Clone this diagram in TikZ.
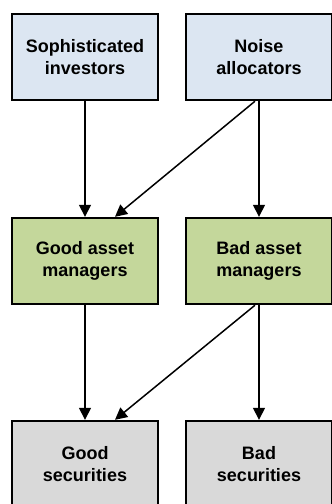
\documentclass[tikz,border=0pt]{standalone}
\usepackage{fontspec}
\setmainfont{Liberation Sans}
\usetikzlibrary{arrows.meta}

\definecolor{topblue}{HTML}{DCE6F2}
\definecolor{midgreen}{HTML}{C4D79B}
\definecolor{lowgray}{HTML}{D9D9D9}

\tikzset{
	box/.style={draw=black, line width=2.4pt, minimum width=146pt, minimum height=86pt,
		align=center, font=\fontsize{18}{22}\selectfont\bfseries, inner sep=0pt},
	flow/.style={line width=1.5pt, -{Triangle[length=12pt,width=12pt]}}
}

\begin{document}
\begin{tikzpicture}[x=1pt,y=-1pt]
	
	\useasboundingbox (0,0) rectangle (332,504);
	
	\node[box, fill=topblue] (soph) at (85,57) {Sophisticated\\investors};
	\node[box, fill=topblue] (noise) at (259,57) {Noise\\allocators};
	
	\node[box, fill=midgreen] (good) at (85,261) {Good asset\\managers};
	\node[box, fill=midgreen] (bad) at (259,261) {Bad asset\\managers};
	
	\node[box, fill=lowgray] (goodsec) at (85,464) {Good\\securities};
	\node[box, fill=lowgray] (badsec) at (259,464) {Bad\\securities};
	
	\draw[flow] (soph) -- (good);
	\draw[flow] (noise) -- (bad);
	\draw[flow] ([xshift=-4pt]noise.south) -- ([xshift=30pt]good.north);
	
	\draw[flow] (good) -- (goodsec);
	\draw[flow] (bad) -- (badsec);
	\draw[flow] ([xshift=-4pt]bad.south) -- ([xshift=30pt]goodsec.north);
	
\end{tikzpicture}
\end{document}
